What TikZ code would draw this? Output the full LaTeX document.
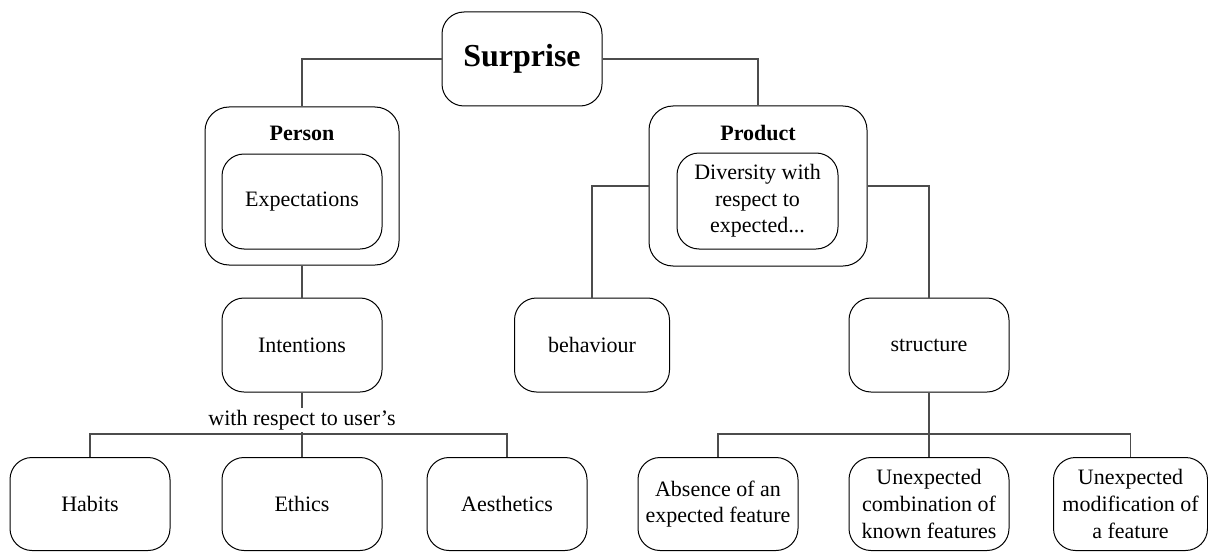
\documentclass[tikz,border=0pt]{standalone}
\usepackage{fontspec}
\setmainfont{Liberation Serif}
\usepackage{tikz}

\begin{document}
\begin{tikzpicture}[
  x=0.5pt, y=-0.5pt,
  every node/.style={font=\fontsize{11}{13.3}\selectfont, align=center, inner sep=1pt},
  block/.style={shape=rectangle, draw, rounded corners=11pt, line width=0.5pt,
    minimum width=80pt, minimum height=47pt},
  outer/.style={shape=rectangle, draw, rounded corners=12pt, line width=0.5pt},
  title/.style={font=\fontsize{11}{13.3}\selectfont\bfseries},
  link/.style={draw=black!70, line width=0.6pt}
]
\useasboundingbox (0,0) rectangle (1208,551);

\node [block, font=\fontsize{16}{19}\selectfont\bfseries] (surprise) at (522,59) {Surprise};

\node [outer, minimum width=97pt, minimum height=79pt] (person) at (302,186) {};
\node [title] (personlbl) at (302,133) {Person};
\node [block, minimum height=47.5pt] (expect) at (302,201.5) {Expectations};

\node [outer, minimum width=109pt, minimum height=80pt] (product) at (758,186) {};
\node [title] (productlbl) at (758,133) {Product};
\node [block, minimum width=80.5pt, minimum height=48pt] (diversity) at (757.5,201) {Diversity with\\respect to\\expected...};

\node [block] (intentions) at (302,345) {Intentions};
\node [block, minimum width=77.5pt] (behaviour) at (592,345) {behaviour};
\node [block] (structure) at (929,345) {structure};

\node (userlbl) at (302,420) {with respect to user's};
\coordinate (ujoin) at (302,434);
\coordinate (sjoin) at (929,434);

\node [block, minimum height=46.5pt] (habits) at (90,504) {Habits};
\node [block, minimum height=46.5pt] (ethics) at (302,504) {Ethics};
\node [block, minimum height=46.5pt] (aesthetics) at (507,504) {Aesthetics};
\node [block, minimum height=46.5pt] (absence) at (718,504) {Absence of an\\expected feature};
\node [block, minimum height=46.5pt] (combination) at (929,504) {Unexpected\\combination of\\known features};
\node [block, minimum width=77pt, minimum height=46.5pt] (modification) at (1130.5,504) {Unexpected\\modification of\\a feature};

\draw [link] (surprise.west) -| (person.north);
\draw [link] (surprise.east) -| (product.north);
\draw [link] (person.south) -- (intentions.north);
\draw [link] (intentions.south) -- (userlbl.north);
\draw [link] (userlbl.south) -- (ujoin);
\draw [link] (habits.north) |- (ujoin) -| (aesthetics.north);
\draw [link] (ujoin) -- (ethics.north);
\draw [link] (product.west) -| (behaviour.north);
\draw [link] (product.east) -| (structure.north);
\draw [link] (structure.south) -- (sjoin);
\draw [link] (absence.north) |- (sjoin) -| (modification.north);
\draw [link] (sjoin) -- (combination.north);
\end{tikzpicture}
\end{document}
